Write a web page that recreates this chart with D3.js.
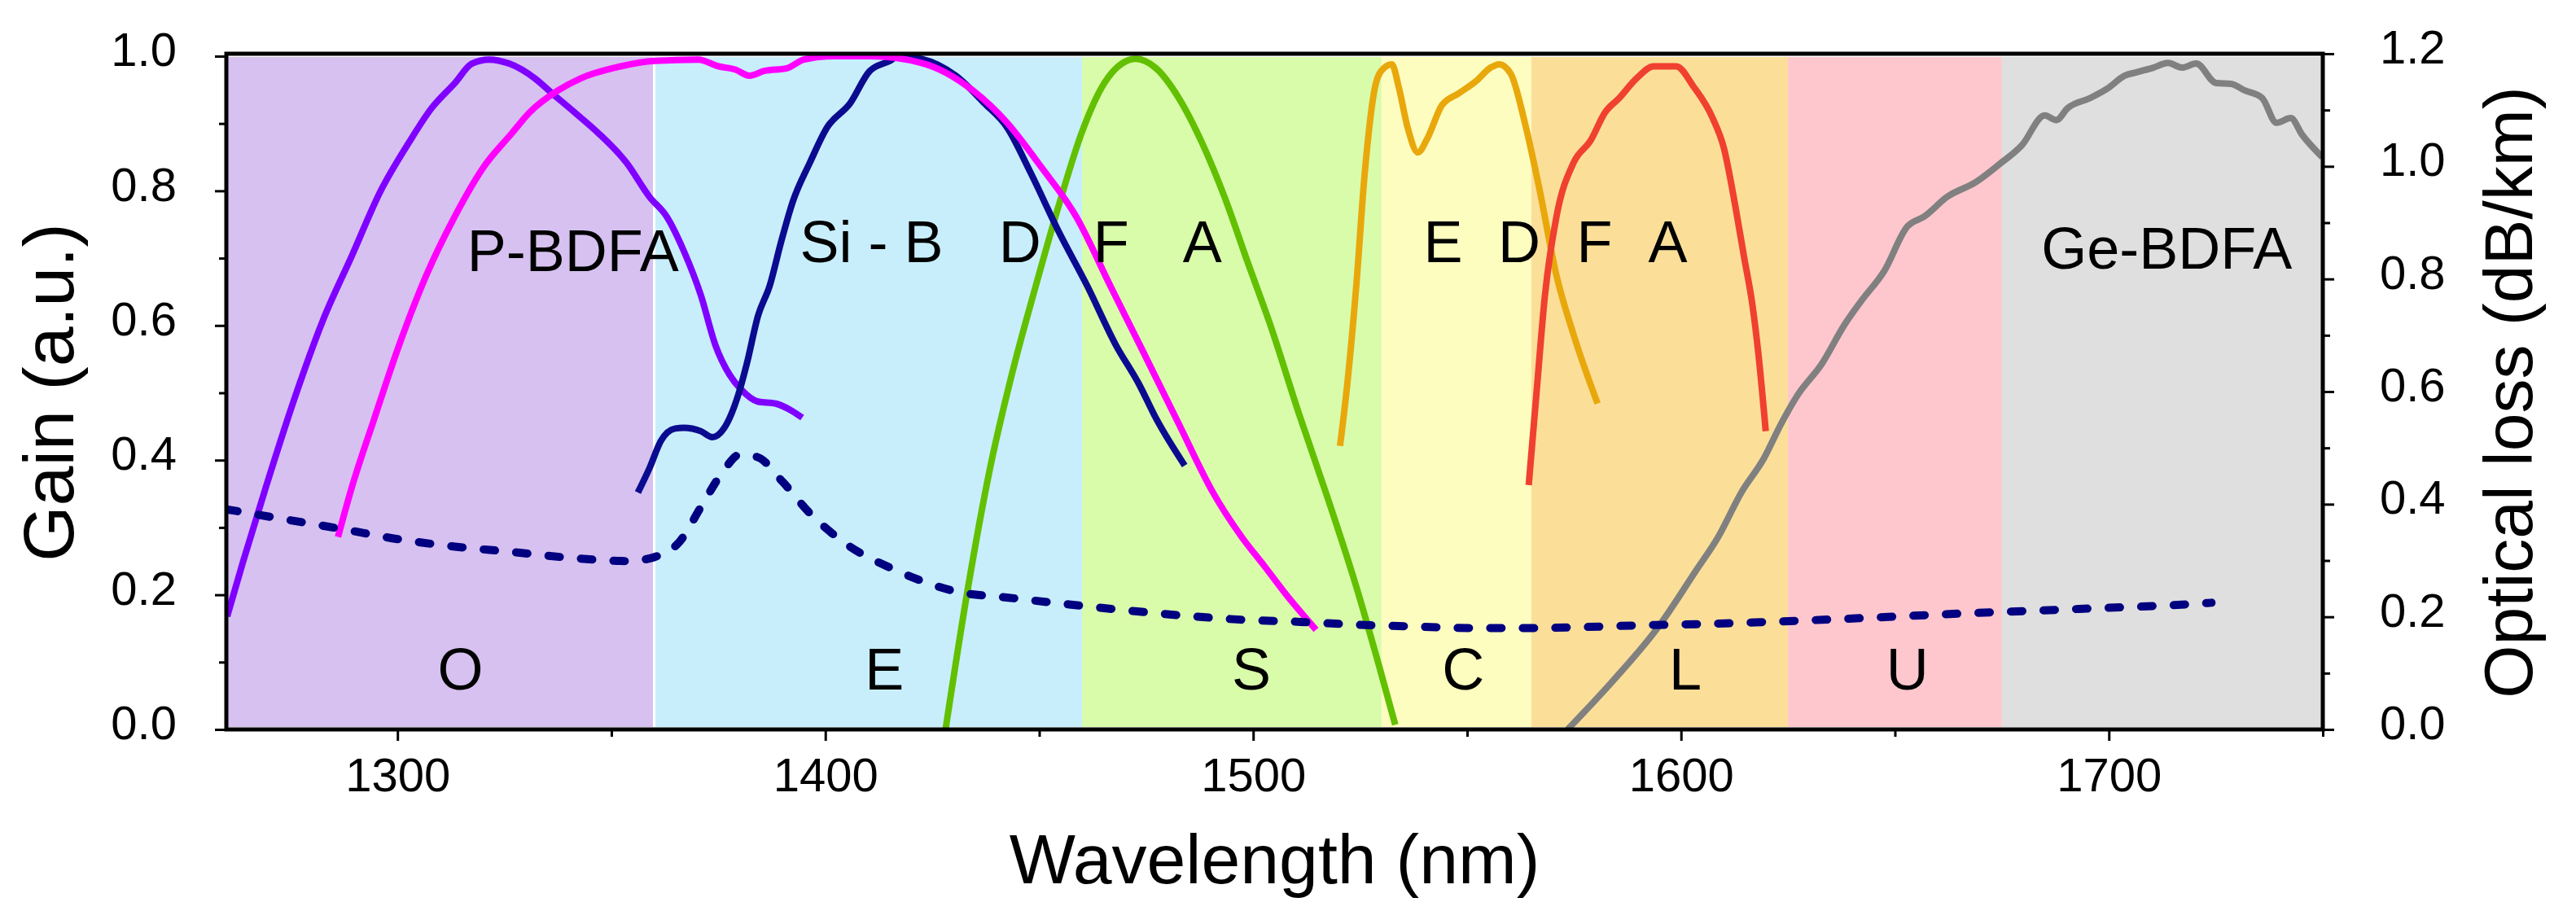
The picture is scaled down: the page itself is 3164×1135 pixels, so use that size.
<!DOCTYPE html>
<html>
<head>
<meta charset="utf-8">
<script src="https://cdn.jsdelivr.net/npm/d3@7"></script>
<style>
    body { margin: 0; background: #fff; }
    text { font-family: "Liberation Sans", Arial, sans-serif; }
</style>
</head>
<body>
<div id="chart"></div>
<script>
    // telecom bands (nm)
    var bandNames = ["O", "E", "S", "C", "L", "U", ""];
    var bandStart = [1260, 1360, 1460, 1530, 1565, 1625, 1675];
    var bandEnd = [1360, 1460, 1530, 1565, 1625, 1675, 1750];
    var bandColors = ["#d6c1f0", "#c8eefc", "#d9fcab", "#fefdc0", "#fbdf99", "#fec6cd", "#dfdfdf"];
    var bandLabelNm = [1314.7, 1413.8, 1499.6, 1549.1, 1601, 1652.9];

    // gain curves (normalised)
    var pbdfaNm = [1260.2, 1263.9, 1269.2, 1275.9, 1282.6, 1289.3, 1296, 1302.7, 1308, 1313.4, 1317.4, 1321.4, 1326.1, 1332.1, 1336.1, 1341.5, 1346.9, 1353.5, 1358.9, 1362.9, 1366.9, 1370.9, 1374.3, 1377.6, 1380.3, 1384.2, 1388.4, 1391.7, 1394.6];
    var pbdfaGain = [0.168, 0.249, 0.359, 0.491, 0.608, 0.703, 0.799, 0.872, 0.923, 0.96, 0.989, 0.995, 0.989, 0.967, 0.945, 0.916, 0.886, 0.842, 0.791, 0.762, 0.711, 0.645, 0.571, 0.527, 0.505, 0.487, 0.484, 0.475, 0.463];

    var wideNm = [1286.1, 1289.3, 1294.6, 1300, 1306.7, 1313.4, 1320.1, 1326.8, 1330.8, 1337.5, 1342.8, 1350.9, 1360.2, 1370.3, 1375, 1379, 1382.3, 1385.7, 1391, 1395, 1401.7, 1410.4, 1422.5, 1434.5, 1442.5, 1450.5, 1458.6, 1466.6, 1474.6, 1482.6, 1490.6, 1497.3, 1502.7, 1508, 1514.7];
    var wideGain = [0.286, 0.359, 0.462, 0.564, 0.674, 0.762, 0.835, 0.886, 0.916, 0.949, 0.967, 0.983, 0.993, 0.995, 0.985, 0.98, 0.971, 0.978, 0.982, 0.995, 1.0, 1.0, 0.99, 0.949, 0.901, 0.835, 0.762, 0.659, 0.557, 0.454, 0.352, 0.286, 0.242, 0.198, 0.148];

    var sibdfaNm = [1356.2, 1358.9, 1361.6, 1364.9, 1366.9, 1370.9, 1373.6, 1376.3, 1379.7, 1381.6, 1384.3, 1387, 1389.7, 1392.4, 1396.4, 1400.4, 1405.8, 1410.4, 1415.1, 1417.1, 1422.5, 1430.5, 1437.2, 1442.5, 1447.9, 1454.5, 1461.2, 1467.9, 1473.3, 1477.3, 1484];
    var sibdfaGain = [0.352, 0.388, 0.429, 0.447, 0.448, 0.443, 0.434, 0.447, 0.498, 0.542, 0.615, 0.659, 0.725, 0.784, 0.842, 0.894, 0.93, 0.978, 0.993, 1.0, 0.996, 0.971, 0.93, 0.894, 0.828, 0.74, 0.659, 0.571, 0.513, 0.462, 0.392];

    var tdfaNm = [1428.1, 1433.2, 1438.5, 1443.9, 1449.2, 1454.5, 1459.9, 1465.2, 1469.3, 1472.6, 1477.3, 1482.6, 1488, 1493.3, 1498.6, 1504, 1510.7, 1517.4, 1524.1, 1529.4, 1533.2];
    var tdfaGain = [0, 0.205, 0.388, 0.535, 0.659, 0.777, 0.886, 0.96, 0.989, 0.996, 0.982, 0.938, 0.872, 0.791, 0.696, 0.601, 0.469, 0.344, 0.212, 0.095, 0.007];

    var cEdfaNm = [1520.3, 1522, 1524.1, 1526.1, 1528.7, 1530.5, 1532.4, 1534.1, 1536.1, 1538.5, 1540.8, 1544.1, 1548.1, 1552.1, 1555.5, 1557.5, 1560.2, 1563.5, 1566.8, 1570.9, 1574.9, 1580.5];
    var cEdfaGain = [0.421, 0.513, 0.659, 0.828, 0.96, 0.982, 0.988, 0.952, 0.894, 0.857, 0.879, 0.927, 0.945, 0.963, 0.983, 0.988, 0.974, 0.901, 0.806, 0.674, 0.586, 0.484];

    var lEdfaNm = [1564.4, 1566.2, 1568.2, 1570.9, 1574.9, 1578.9, 1582.2, 1585.6, 1589.6, 1593.6, 1598.9, 1602.9, 1607.4, 1610, 1612.7, 1614.7, 1616.7, 1618.1, 1619.8];
    var lEdfaGain = [0.363, 0.498, 0.645, 0.762, 0.842, 0.875, 0.916, 0.938, 0.967, 0.985, 0.985, 0.955, 0.908, 0.864, 0.777, 0.703, 0.63, 0.557, 0.443];

    var gebdfaNm = [1573.5, 1584.2, 1594.9, 1603.3, 1608.7, 1614.1, 1619.4, 1623.4, 1627.4, 1632.8, 1638.2, 1642.2, 1647.5, 1652.9, 1656.9, 1662.2, 1668.9, 1674.3, 1679.7, 1685, 1687.7, 1690.4, 1695.7, 1699.7, 1703.7, 1706.4, 1710.4, 1713.8, 1717.1, 1720.4, 1725.1, 1728.5, 1731.8, 1735.8, 1739.2, 1742.5, 1745.2, 1749.9];
    var gebdfaGain = [0, 0.073, 0.154, 0.234, 0.286, 0.352, 0.403, 0.454, 0.498, 0.542, 0.601, 0.637, 0.681, 0.747, 0.762, 0.791, 0.813, 0.839, 0.868, 0.912, 0.905, 0.923, 0.938, 0.952, 0.971, 0.976, 0.983, 0.99, 0.983, 0.989, 0.96, 0.959, 0.949, 0.938, 0.901, 0.908, 0.883, 0.85];

    // fibre loss, right axis (dB/km)
    var lossNm = [1260, 1273, 1287, 1300, 1313, 1327, 1340, 1354, 1360, 1366, 1371, 1376, 1380, 1384, 1390, 1396, 1404, 1417, 1430, 1444, 1457, 1471, 1484, 1497, 1511, 1524, 1537, 1551, 1564, 1578, 1591, 1604, 1613, 1640, 1666, 1693, 1720, 1724];
    var lossDb = [0.391, 0.374, 0.356, 0.338, 0.325, 0.315, 0.305, 0.299, 0.306, 0.334, 0.396, 0.457, 0.488, 0.484, 0.44, 0.387, 0.334, 0.281, 0.246, 0.233, 0.222, 0.211, 0.202, 0.195, 0.191, 0.186, 0.183, 0.18, 0.18, 0.182, 0.185, 0.187, 0.189, 0.197, 0.206, 0.214, 0.223, 0.225];

    // amplifier labels
    var ampLabels = ["P-BDFA", "Si - B", "D", "F", "A", "E", "D", "F", "A", "Ge-BDFA"];
    var ampLabelNm = [1341, 1410.8, 1445.5, 1466.8, 1488.1, 1544.4, 1562.2, 1579.8, 1596.9, 1713.5];
    var ampLabelGain = [0.681, 0.694, 0.694, 0.694, 0.694, 0.694, 0.694, 0.694, 0.694, 0.684];

    var xTicks = [1300, 1400, 1500, 1600, 1700];
    var xMinor = [1350, 1450, 1550, 1650, 1750];
    var gainTicks = [0, 0.2, 0.4, 0.6, 0.8, 1.0];
    var gainMinor = [0.1, 0.3, 0.5, 0.7, 0.9];
    var lossTicks = [0, 0.2, 0.4, 0.6, 0.8, 1.0, 1.2];
    var lossMinor = [0.1, 0.3, 0.5, 0.7, 0.9, 1.1];

    var width = 3164
    var height = 1135
    // plot box (window.top is read-only, so own names)
    var pLeft = 278, pRight = 2853, pTop = 66, pBottom = 896

    var svg = d3.select('#chart')
        .append('svg')
        .attr('width', width)
        .attr('height', height)
        .style('display', 'block')

    var x = d3.scaleLinear().domain([1260, 1750]).range([pLeft, pRight])
    var yGain = d3.scaleLinear().domain([0, 1]).range([pBottom, 69])
    var yLoss = d3.scaleLinear().domain([0, 1.2]).range([pBottom, 66])

    svg.append('clipPath').attr('id', 'plotclip')
        .append('rect')
        .attr('x', pLeft).attr('y', pTop)
        .attr('width', pRight - pLeft).attr('height', pBottom - pTop)

    // coloured bands
    svg.selectAll('rect.band')
        .data(bandStart)
        .enter()
        .append('rect')
        .attr('class', 'band')
        .attr('x', function (d) { return x(d) })
        .attr('y', pTop + 4)
        .attr('width', function (d, i) { return x(bandEnd[i]) - x(d) })
        .attr('height', pBottom - pTop - 7)
        .attr('fill', function (d, i) { return bandColors[i] })

    // thin white seam between O and E
    svg.append('line')
        .attr('x1', x(1360)).attr('x2', x(1360))
        .attr('y1', pTop).attr('y2', pBottom)
        .attr('stroke', '#fff')
        .attr('stroke-width', 3)

    svg.selectAll('text.band')
        .data(bandNames.slice(0, 6))
        .enter()
        .append('text')
        .attr('class', 'band')
        .attr('x', function (d, i) { return x(bandLabelNm[i]) })
        .attr('y', yGain(0.059))
        .attr('text-anchor', 'middle')
        .style('font-size', '72px')
        .text(function (d) { return d })

    // gain curves
    var series = [
        { nm: pbdfaNm, v: pbdfaGain, color: '#8000ff' },
        { nm: tdfaNm, v: tdfaGain, color: '#62c000' },
        { nm: sibdfaNm, v: sibdfaGain, color: '#0b0b90' },
        { nm: wideNm, v: wideGain, color: '#ff00ff' },
        { nm: cEdfaNm, v: cEdfaGain, color: '#e8a80c' },
        { nm: lEdfaNm, v: lEdfaGain, color: '#f0402f' },
        { nm: gebdfaNm, v: gebdfaGain, color: '#808080' }
    ]

    var gainLine = d3.line()
        .x(function (d) { return x(d[0]) })
        .y(function (d) { return yGain(d[1]) })
        .curve(d3.curveMonotoneX)

    var curves = svg.append('g').attr('clip-path', 'url(#plotclip)')

    series.forEach(function (s) {
        curves.append('path')
            .datum(d3.zip(s.nm, s.v))
            .attr('d', gainLine)
            .style('fill', 'none')
            .attr('stroke', s.color)
            .attr('stroke-width', 8)
            .attr('stroke-linejoin', 'round')
    })

    var lossLine = d3.line()
        .x(function (d) { return x(d[0]) })
        .y(function (d) { return yLoss(d[1]) })
        .curve(d3.curveMonotoneX)

    curves.append('path')
        .datum(d3.zip(lossNm, lossDb))
        .attr('d', lossLine)
        .style('fill', 'none')
        .attr('stroke', '#000080')
        .attr('stroke-width', 10)
        .attr('stroke-linecap', 'round')
        .attr('stroke-dasharray', '14,26')

    svg.selectAll('text.amp')
        .data(ampLabels)
        .enter()
        .append('text')
        .attr('class', 'amp')
        .attr('x', function (d, i) { return x(ampLabelNm[i]) })
        .attr('y', function (d, i) { return yGain(ampLabelGain[i]) })
        .attr('text-anchor', 'middle')
        .style('font-size', '72px')
        .text(function (d) { return d })

    // frame
    svg.append('rect')
        .attr('x', pLeft).attr('y', pTop)
        .attr('width', pRight - pLeft).attr('height', pBottom - pTop)
        .style('fill', 'none')
        .attr('stroke', '#000')
        .attr('stroke-width', 5)

    function styleAxis(g) {
        g.select('.domain').remove()
        g.selectAll('line').attr('stroke', '#000').attr('stroke-width', 3)
        g.selectAll('text').style('font-size', '58px').attr('fill', '#000')
    }

    // x axis
    svg.append('g')
        .attr('transform', 'translate(0,' + pBottom + ')')
        .call(d3.axisBottom(x).tickValues(xTicks).tickFormat(d3.format('d')).tickSize(14).tickPadding(21))
        .call(styleAxis)
    svg.append('g')
        .attr('transform', 'translate(0,' + pBottom + ')')
        .call(d3.axisBottom(x).tickValues(xMinor).tickFormat('').tickSize(9))
        .call(styleAxis)

    // left gain axis
    svg.append('g')
        .attr('transform', 'translate(' + pLeft + ',0)')
        .call(d3.axisLeft(yGain).tickValues(gainTicks).tickFormat(d3.format('.1f')).tickSize(14).tickPadding(47))
        .call(styleAxis)
        .selectAll('text').attr('dy', '0.2em')
    svg.append('g')
        .attr('transform', 'translate(' + pLeft + ',0)')
        .call(d3.axisLeft(yGain).tickValues(gainMinor).tickFormat('').tickSize(9))
        .call(styleAxis)

    // right loss axis
    svg.append('g')
        .attr('transform', 'translate(' + pRight + ',0)')
        .call(d3.axisRight(yLoss).tickValues(lossTicks).tickFormat(d3.format('.1f')).tickSize(14).tickPadding(56))
        .call(styleAxis)
        .selectAll('text').attr('dy', '0.2em')
    svg.append('g')
        .attr('transform', 'translate(' + pRight + ',0)')
        .call(d3.axisRight(yLoss).tickValues(lossMinor).tickFormat('').tickSize(9))
        .call(styleAxis)

    // axis titles
    svg.append('text')
        .attr('transform', 'translate(90,482) rotate(-90)')
        .attr('text-anchor', 'middle')
        .style('font-size', '88px')
        .text('Gain (a.u.)')

    svg.append('text')
        .attr('transform', 'translate(3110,482) rotate(-90)')
        .attr('text-anchor', 'middle')
        .style('font-size', '84px')
        .text('Optical loss (dB/km)')

    svg.append('text')
        .attr('x', (pLeft + pRight) / 2)
        .attr('y', 1085)
        .attr('text-anchor', 'middle')
        .style('font-size', '86px')
        .text('Wavelength (nm)')
</script>
</body>
</html>
